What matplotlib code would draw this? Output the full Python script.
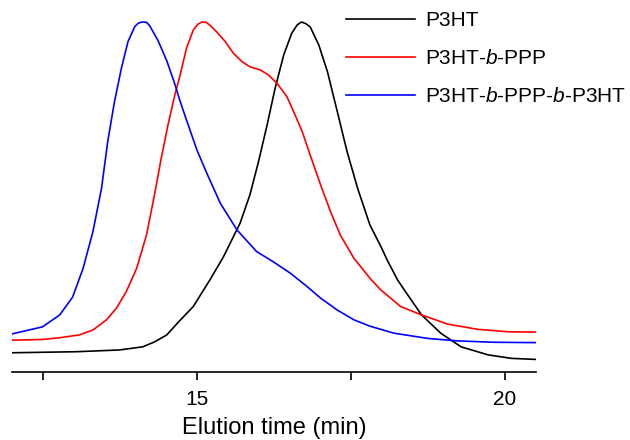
import matplotlib
matplotlib.use('Agg')
import matplotlib.pyplot as plt

plt.rcParams['font.family'] = ['Liberation Sans', 'DejaVu Sans']
plt.rcParams['mathtext.fontset'] = 'custom'
plt.rcParams['mathtext.rm'] = 'Liberation Sans'
plt.rcParams['mathtext.it'] = 'Liberation Sans:italic'

# GPC traces (elution time in min, normalised intensity)
t_p3ht = [12.0, 13.04, 13.74, 14.12, 14.31, 14.51, 14.70, 14.94, 15.21, 15.43, 15.70,
          15.86, 16.0, 16.14, 16.27, 16.41, 16.54, 16.63, 16.70, 16.77, 16.84, 16.98,
          17.12, 17.28, 17.44, 17.61, 17.81, 17.99, 18.09, 18.26, 18.37, 18.65, 18.96,
          19.29, 19.73, 20.11, 20.5]
i_p3ht = [0.055, 0.058, 0.063, 0.072, 0.086, 0.106, 0.143, 0.187, 0.263, 0.329, 0.425,
          0.506, 0.601, 0.706, 0.811, 0.906, 0.968, 0.992, 1.0, 0.995, 0.986, 0.934,
          0.858, 0.744, 0.629, 0.525, 0.420, 0.358, 0.320, 0.263, 0.234, 0.163, 0.111,
          0.072, 0.049, 0.039, 0.036]

t_diblock = [12.0, 12.49, 12.77, 13.09, 13.31, 13.53, 13.69, 13.85, 14.02, 14.18, 14.31,
             14.42, 14.53, 14.64, 14.72, 14.83, 14.94, 15.01, 15.08, 15.15, 15.21, 15.32,
             15.46, 15.59, 15.73, 15.86, 16.03, 16.16, 16.30, 16.46, 16.57, 16.71, 16.84,
             17.01, 17.17, 17.33, 17.55, 17.81, 17.99, 18.31, 18.65, 19.07, 19.56, 20.05,
             20.5]
i_diblock = [0.091, 0.093, 0.098, 0.106, 0.120, 0.149, 0.182, 0.229, 0.296, 0.391, 0.506,
             0.611, 0.706, 0.791, 0.844, 0.925, 0.977, 0.993, 1.0, 0.999, 0.991, 0.972,
             0.944, 0.911, 0.887, 0.872, 0.863, 0.849, 0.825, 0.787, 0.744, 0.687, 0.620,
             0.534, 0.458, 0.391, 0.325, 0.268, 0.234, 0.187, 0.163, 0.137, 0.122, 0.115,
             0.114]

t_triblock = [12.0, 12.49, 12.77, 12.98, 13.15, 13.31, 13.45, 13.55, 13.66, 13.77, 13.88,
              13.99, 14.05, 14.11, 14.18, 14.23, 14.37, 14.51, 14.64, 14.72, 14.83, 15.0,
              15.16, 15.38, 15.65, 15.97, 16.24, 16.52, 16.79, 17.01, 17.28, 17.55, 17.81,
              18.20, 18.75, 19.22, 19.83, 20.5]
i_triblock = [0.109, 0.129, 0.163, 0.214, 0.296, 0.401, 0.525, 0.658, 0.772, 0.866, 0.944,
              0.987, 0.997, 1.0, 0.999, 0.990, 0.946, 0.889, 0.823, 0.777, 0.720, 0.634,
              0.568, 0.482, 0.406, 0.344, 0.315, 0.282, 0.244, 0.211, 0.177, 0.149, 0.131,
              0.111, 0.096, 0.089, 0.085, 0.084]

labels = ['P3HT', 'P3HT-$\\mathit{b}$-PPP', 'P3HT-$\\mathit{b}$-PPP-$\\mathit{b}$-P3HT']
colors = ['black', '#ff0000', '#0000ff']

fig = plt.figure(figsize=(6.3, 4.4), dpi=100)
ax = fig.add_axes([0.0195, 0.1545, 0.8305, 0.8228])

series = [(t_p3ht, i_p3ht), (t_diblock, i_diblock), (t_triblock, i_triblock)]
for (t, y), lab, c in zip(series, labels, colors):
    ax.plot(t, y, color=c, lw=1.2, label=lab, solid_joinstyle='round')

ax.set_xlim(12.0, 20.5)
ax.set_ylim(0, 1.0343)
for s in ['left', 'right', 'top']:
    ax.spines[s].set_visible(False)
ax.spines['bottom'].set_linewidth(1.2)
ax.set_yticks([])
ax.set_xticks([15, 20])
ax.set_xticks([12.5, 17.5], minor=True)
ax.tick_params(axis='x', which='both', direction='out', length=6, width=1.2,
               labelsize=15, pad=7)
ax.set_xlabel('Elution time (min)', fontsize=17, labelpad=6)

ax.legend(loc='upper left', bbox_to_anchor=(346 / 630, 1 - 11 / 440),
          bbox_transform=fig.transFigure, frameon=False, fontsize=15,
          handlelength=3.3, handletextpad=0.5, labelspacing=0.91,
          borderaxespad=0, borderpad=0)

fig.savefig('out.png', dpi=100)
